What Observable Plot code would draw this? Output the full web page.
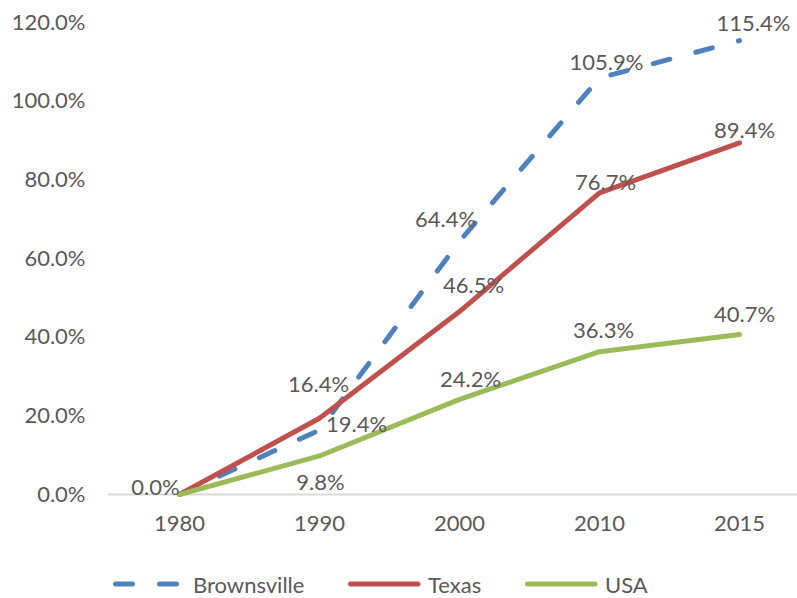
<!DOCTYPE html>
<html>
<head>
<meta charset="utf-8">
<script src="https://cdn.jsdelivr.net/npm/d3@7"></script>
<script src="https://cdn.jsdelivr.net/npm/@observablehq/plot@0.6"></script>
<style>
  body { margin: 0; background: #fff; font-family: Lato, "Open Sans", sans-serif; }
  #wrap { position: relative; width: 797px; height: 598px; overflow: hidden; }
  #legend { position: absolute; top: 572px; left: 0; width: 797px; height: 24px; font-size: 22px; color: #595959; }
  .item { position: absolute; top: 0; height: 24px; display: flex; align-items: center; white-space: nowrap; }
  .item svg { margin-right: 6px; }
</style>
</head>
<body>
<div id="wrap"><div id="chart"></div><div id="legend"></div></div>
<script>
const years = ["1980", "1990", "2000", "2010", "2015"];
const seriesNames = ["Brownsville", "Texas", "USA"];
const brownsville = [0.0, 0.164, 0.644, 1.059, 1.154];
const texas = [0.0, 0.194, 0.465, 0.767, 0.894];
const usa = [0.0, 0.098, 0.242, 0.363, 0.407];
const yTicks = [0, 0.2, 0.4, 0.6, 0.8, 1.0, 1.2];

const colors = {Brownsville: "#4F81BD", Texas: "#C0504D", USA: "#9BBB59"};
const dashes = {Brownsville: "17,27", Texas: null, USA: null};
const valuesBy = {Brownsville: brownsville, Texas: texas, USA: usa};

const rows = seriesNames.flatMap(s => years.map((yr, i) => ({series: s, year: yr, value: valuesBy[s][i]})));

// label offsets (dx, dy) from each point, mimicking Excel label placement; null = hidden
const labelOffsets = {
  Brownsville: [[-24, -7], [-1, -45], [-14, -21], [7, -15], [14, -17]],
  Texas: [null, [37, 7], [14, -26], [6, -10], [5, -12]],
  USA: [null, [1, 27], [11, -19], [4, -21], [5, -19]]
};
const legendLeft = {Brownsville: 111, Texas: 346, USA: 523};

const fmt = d => (d * 100).toFixed(1) + "%";

const lineMarks = seriesNames.map(s => Plot.line(rows.filter(r => r.series === s), {
  x: "year", y: "value",
  stroke: colors[s], strokeWidth: 5,
  strokeDasharray: dashes[s] || undefined,
  strokeLinecap: "round", strokeLinejoin: "round"
}));

const labelMarks = rows.map(r => {
  const off = labelOffsets[r.series][years.indexOf(r.year)];
  if (!off) return null;
  return Plot.text([r], {
    x: "year", y: "value", text: d => fmt(d.value),
    dx: off[0], dy: off[1], fill: "#595959",
    textAnchor: "middle", lineAnchor: "middle", fontSize: 22
  });
}).filter(Boolean);

const chart = Plot.plot({
  width: 797,
  height: 560,
  marginLeft: 108,
  marginRight: 0,
  marginTop: 22,
  marginBottom: 66,
  style: {fontFamily: "Lato, 'Open Sans', sans-serif", fontSize: "22px", color: "#595959", background: "white"},
  x: {type: "point", domain: years, range: [179, 739], padding: 0, label: null},
  y: {domain: [0, 1.2], label: null},
  marks: [
    Plot.ruleY([0], {stroke: "#D9D9D9", strokeWidth: 2}),
    Plot.axisY({ticks: yTicks, tickFormat: fmt, tickSize: 0, tickPadding: 23, fontSize: 22, fill: "#595959", label: null}),
    Plot.axisX({tickSize: 0, tickPadding: 21, fontSize: 22, fill: "#595959", label: null}),
    ...lineMarks,
    ...labelMarks
  ]
});
document.getElementById("chart").appendChild(chart);

const legend = document.getElementById("legend");
seriesNames.forEach(s => {
  const item = document.createElement("div");
  item.className = "item";
  item.style.left = legendLeft[s] + "px";
  const dash = dashes[s] ? `stroke-dasharray="${dashes[s]}"` : "";
  item.innerHTML = `<svg width="76" height="10"><line x1="4.5" y1="5" x2="${dashes[s] ? 71 : 72}" y2="5" stroke="${colors[s]}" stroke-width="5" stroke-linecap="round" ${dash}/></svg><span>${s}</span>`;
  legend.appendChild(item);
});
</script>
</body>
</html>
